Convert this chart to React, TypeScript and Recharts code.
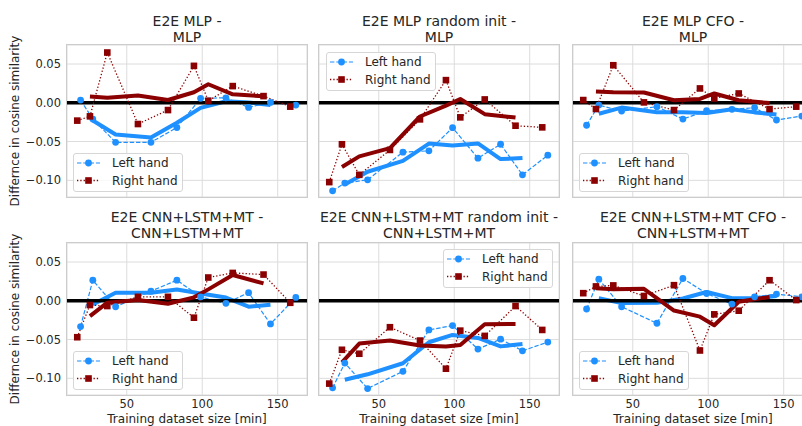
import React from 'react'
import { LineChart, Line, XAxis, YAxis, CartesianGrid, ReferenceLine } from 'recharts'

// x positions (training minutes) of the two hands
const LEFT_X = [19.4, 27.5, 42.6, 66, 83.2, 98.9, 115.7, 130.7, 145.2, 162]
const RIGHT_X = [17.2, 25.6, 37.1, 57.4, 77.3, 94.5, 104, 120.2, 140.6, 158.3]

const X_TICKS = [50, 100, 150]
const Y_TICKS = [-0.1, -0.05, 0, 0.05]
const X_DOMAIN = [10.4, 169.4]
const Y_DOMAIN = [-0.1215, 0.0745]

// E2E MLP - MLP
const mlpLeft = [0.0035, -0.021, -0.051, -0.051, -0.032, 0.0057, 0.0064, -0.006, 0.0005, -0.003]
const mlpRight = [-0.023, -0.0175, 0.0648, -0.0274, -0.0094, 0.0476, 0.0026, 0.0215, 0.0086, -0.005]
const mlpLeftSmooth = [-0.0228, -0.041, -0.0447, -0.0258, -0.0066, 0.002, 0.0003, -0.0028]
const mlpRightSmooth = [0.0081, 0.0066, 0.0093, 0.0036, 0.0136, 0.0239, 0.0109, 0.0084]

// E2E MLP random init - MLP
const randLeft = [-0.1135, -0.1036, -0.0993, -0.0637, -0.062, -0.0321, -0.0715, -0.0535, -0.0929, -0.0676]
const randRight = [-0.1023, -0.0535, -0.0929, -0.0608, -0.0214, 0.0292, -0.0188, 0.0043, -0.0296, -0.0317]
const randLeftSmooth = [-0.1055, -0.0889, -0.075, -0.0526, -0.0552, -0.0524, -0.0726, -0.0713]
const randRightSmooth = [-0.0829, -0.0691, -0.0584, -0.0177, -0.0037, 0.0049, -0.0147, -0.019]

// E2E MLP CFO - MLP
const cfoLeft = [-0.029, -0.003, -0.0107, -0.005, -0.021, -0.0103, -0.0085, -0.0064, -0.0222, -0.0171]
const cfoRight = [0.0035, -0.0081, 0.0484, 0.0005, -0.0094, 0.0185, 0.0056, 0.012, -0.0081, -0.005]
const cfoLeftSmooth = [-0.0142, -0.0062, -0.0122, -0.0121, -0.0133, -0.0084, -0.0124, -0.0152]
const cfoRightSmooth = [0.0146, 0.0136, 0.0132, 0.0032, 0.0049, 0.012, 0.0032, -0.0004]

// E2E CNN+LSTM+MT - CNN+LSTM+MT
const cnnLeft = [-0.0333, 0.0265, -0.0077, 0.0124, 0.0265, 0.005, -0.0033, 0.0105, -0.0299, 0.0043]
const cnnRight = [-0.047, -0.0055, -0.0068, 0.0051, 0.0051, -0.0218, 0.03, 0.0359, 0.0338, -0.0026]
const cnnLeftSmooth = [-0.0048, 0.0104, 0.0104, 0.0146, 0.0094, 0.0041, -0.0076, -0.005]
const cnnRightSmooth = [-0.0198, -0.0024, 0.0011, -0.0039, 0.0044, 0.0147, 0.0332, 0.0224]

// E2E CNN+LSTM+MT random init - CNN+LSTM+MT
const cnnRandLeft = [-0.1123, -0.0803, -0.1132, -0.091, -0.0376, -0.032, -0.0623, -0.0495, -0.0645, -0.0533]
const cnnRandRight = [-0.1068, -0.0632, -0.0683, -0.0341, -0.0513, -0.0876, -0.0385, -0.0453, -0.0068, -0.0376]
const cnnRandLeftSmooth = [-0.1019, -0.0948, -0.0806, -0.0535, -0.044, -0.0479, -0.0588, -0.0558]
const cnnRandRightSmooth = [-0.0794, -0.0552, -0.0512, -0.0577, -0.0591, -0.0571, -0.0302, -0.0299]

// E2E CNN+LSTM+MT CFO - CNN+LSTM+MT
const cnnCfoLeft = [-0.0106, 0.0278, -0.0077, -0.029, 0.0287, 0.0094, -0.0043, 0.0051, 0.0086, 0.0051]
const cnnCfoRight = [0.0098, 0.0185, 0.0198, 0.0062, 0.0201, -0.0641, -0.0175, -0.0128, 0.0265, 0.0009]
const cnnCfoLeftSmooth = [0.0032, -0.003, -0.0027, 0.003, 0.0113, 0.0034, 0.0031, 0.0063]
const cnnCfoRightSmooth = [0.016, 0.0148, 0.0154, -0.0126, -0.0205, -0.0315, -0.0013, 0.0049]

const BLUE = '#1E90FF'
const RED = '#8B0000'
const TEXT = '#262626'
const FONT = '"DejaVu Sans", sans-serif'

const PW = 240
const PH = 152

const toPoints = (xs: number[], ys: number[]) => ys.map((y, i) => ({ x: xs[i], y }))

const panels = [
  { title: ['E2E MLP -', 'MLP'], left: 67, top: 45, col: 0, row: 0, L: mlpLeft, R: mlpRight, Ls: mlpLeftSmooth, Rs: mlpRightSmooth, legend: [73, 153] },
  { title: ['E2E MLP random init -', 'MLP'], left: 319, top: 45, col: 1, row: 0, L: randLeft, R: randRight, Ls: randLeftSmooth, Rs: randRightSmooth, legend: [326, 52] },
  { title: ['E2E MLP CFO -', 'MLP'], left: 573, top: 45, col: 2, row: 0, L: cfoLeft, R: cfoRight, Ls: cfoLeftSmooth, Rs: cfoRightSmooth, legend: [579, 153] },
  { title: ['E2E CNN+LSTM+MT -', 'CNN+LSTM+MT'], left: 67, top: 243, col: 0, row: 1, L: cnnLeft, R: cnnRight, Ls: cnnLeftSmooth, Rs: cnnRightSmooth, legend: [73, 351] },
  { title: ['E2E CNN+LSTM+MT random init -', 'CNN+LSTM+MT'], left: 319, top: 243, col: 1, row: 1, L: cnnRandLeft, R: cnnRandRight, Ls: cnnRandLeftSmooth, Rs: cnnRandRightSmooth, legend: [443, 249] },
  { title: ['E2E CNN+LSTM+MT CFO -', 'CNN+LSTM+MT'], left: 573, top: 243, col: 2, row: 1, L: cnnCfoLeft, R: cnnCfoRight, Ls: cnnCfoLeftSmooth, Rs: cnnCfoRightSmooth, legend: [579, 351] },
]

const fmtY = (v: number) => v.toFixed(2).replace('-', '\u2212')

const Square = (props: any) => {
  const { cx, cy, index } = props
  if (cx == null || cy == null) return <g key={`e-${index}`} />
  return <rect key={`sq-${index}`} x={cx - 3.3} y={cy - 3.3} width={6.6} height={6.6} fill={RED} />
}

function LegendBox({ left, top }: { left: number, top: number }) {
  return (
    <div style={{ position: 'absolute', left, top, width: 110, height: 39, boxSizing: 'border-box', border: '1px solid #d6d6d6', borderRadius: 3, background: 'rgba(255,255,255,0.8)' }}>
      <svg width={110} height={39} style={{ position: 'absolute', left: -1, top: -1 }}>
        <line x1={4} x2={27} y1={10} y2={10} stroke={BLUE} strokeWidth={1.2} strokeDasharray="4.4 1.9" />
        <circle cx={15.5} cy={10} r={3.4} fill={BLUE} />
        <text x={39} y={14.3} fontSize={12} fill={TEXT} fontFamily={FONT}>Left hand</text>
        <line x1={4} x2={27} y1={27.5} y2={27.5} stroke={RED} strokeWidth={1.3} strokeDasharray="1.3 2" />
        <rect x={12.2} y={24.2} width={6.6} height={6.6} fill={RED} />
        <text x={39} y={31.8} fontSize={12} fill={TEXT} fontFamily={FONT}>Right hand</text>
      </svg>
    </div>
  )
}

function Panel({ p }: { p: typeof panels[number] }) {
  const showY = p.col === 0
  const showX = p.row === 1
  const yW = showY ? 50 : 0
  const xH = showX ? 20 : 0
  const leftData = toPoints(LEFT_X, p.L)
  const rightData = toPoints(RIGHT_X, p.R)
  const leftSmooth = toPoints(LEFT_X.slice(1, 9), p.Ls)
  const rightSmooth = toPoints(RIGHT_X.slice(1, 9), p.Rs)
  return (
    <>
      <div style={{ position: 'absolute', left: p.left - yW, top: p.top }}>
        <LineChart width={PW + yW} height={PH + xH} margin={{ top: 0, right: 0, bottom: 0, left: 0 }}>
          <CartesianGrid stroke="#dcdcdc" strokeWidth={1} />
          <XAxis
            type="number"
            dataKey="x"
            domain={X_DOMAIN}
            ticks={X_TICKS}
            hide={!showX}
            height={xH}
            axisLine={false}
            tickLine={false}
            tickSize={3}
            tickMargin={2}
            tick={{ fontSize: 11.5, fill: TEXT, fontFamily: FONT }}
            allowDataOverflow
          />
          <YAxis
            type="number"
            dataKey="y"
            domain={Y_DOMAIN}
            ticks={Y_TICKS}
            hide={!showY}
            width={yW}
            axisLine={false}
            tickLine={false}
            tickSize={4}
            tickMargin={2}
            tickFormatter={fmtY}
            tick={{ fontSize: 11.5, fill: TEXT, fontFamily: FONT }}
            allowDataOverflow
          />
          <Line data={leftData} dataKey="y" stroke={BLUE} strokeWidth={1.2} strokeDasharray="4.4 1.9"
            dot={{ r: 3.4, fill: BLUE, stroke: 'none' }} activeDot={false} isAnimationActive={false} />
          <Line data={leftSmooth} dataKey="y" stroke={BLUE} strokeWidth={4} strokeLinejoin="round"
            dot={false} activeDot={false} isAnimationActive={false} />
          <ReferenceLine y={0} stroke="#000" strokeWidth={3.5} />
          <Line data={rightData} dataKey="y" stroke={RED} strokeWidth={1.3} strokeDasharray="1.3 2"
            dot={Square} activeDot={false} isAnimationActive={false} />
          <Line data={rightSmooth} dataKey="y" stroke={RED} strokeWidth={4} strokeLinejoin="round"
            dot={false} activeDot={false} isAnimationActive={false} />
        </LineChart>
      </div>
      <div style={{ position: 'absolute', left: p.left - 1, top: p.top - 1, width: PW + 2, height: PH + 2, boxSizing: 'border-box', border: '1.25px solid #cccccc', pointerEvents: 'none' }} />
      <LegendBox left={p.legend[0]} top={p.legend[1]} />
    </>
  )
}

export default function App() {
  return (
    <div style={{ position: 'absolute', left: 0, top: 0, width: 802, height: 426, overflow: 'hidden', background: '#fff', fontFamily: FONT }}>
      <svg width={802} height={426} style={{ position: 'absolute', left: 0, top: 0 }}>
        {panels.map((p, i) => {
          const cx = p.left + PW / 2
          const base = p.row === 0 ? 25.5 : 222
          return (
            <text key={i} textAnchor="middle" fontSize={14} fill={TEXT} fontFamily={FONT}>
              <tspan x={cx} y={base}>{p.title[0]}</tspan>
              <tspan x={cx} y={base + 16}>{p.title[1]}</tspan>
            </text>
          )
        })}
        {panels.filter(p => p.row === 1).map((p, i) => (
          <text key={`xl-${i}`} x={p.left + PW / 2} y={423} textAnchor="middle" fontSize={12} fill={TEXT} fontFamily={FONT}>
            Training dataset size [min]
          </text>
        ))}
        {panels.filter(p => p.col === 0).map((p, i) => {
          const cy = p.top + PH / 2
          return (
            <text key={`yl-${i}`} x={19} y={cy} textAnchor="middle" fontSize={12} fill={TEXT} fontFamily={FONT}
              transform={`rotate(-90 19 ${cy})`}>
              Differnce in cosine similarity
            </text>
          )
        })}
      </svg>
      {panels.map((p, i) => <Panel key={i} p={p} />)}
    </div>
  )
}
